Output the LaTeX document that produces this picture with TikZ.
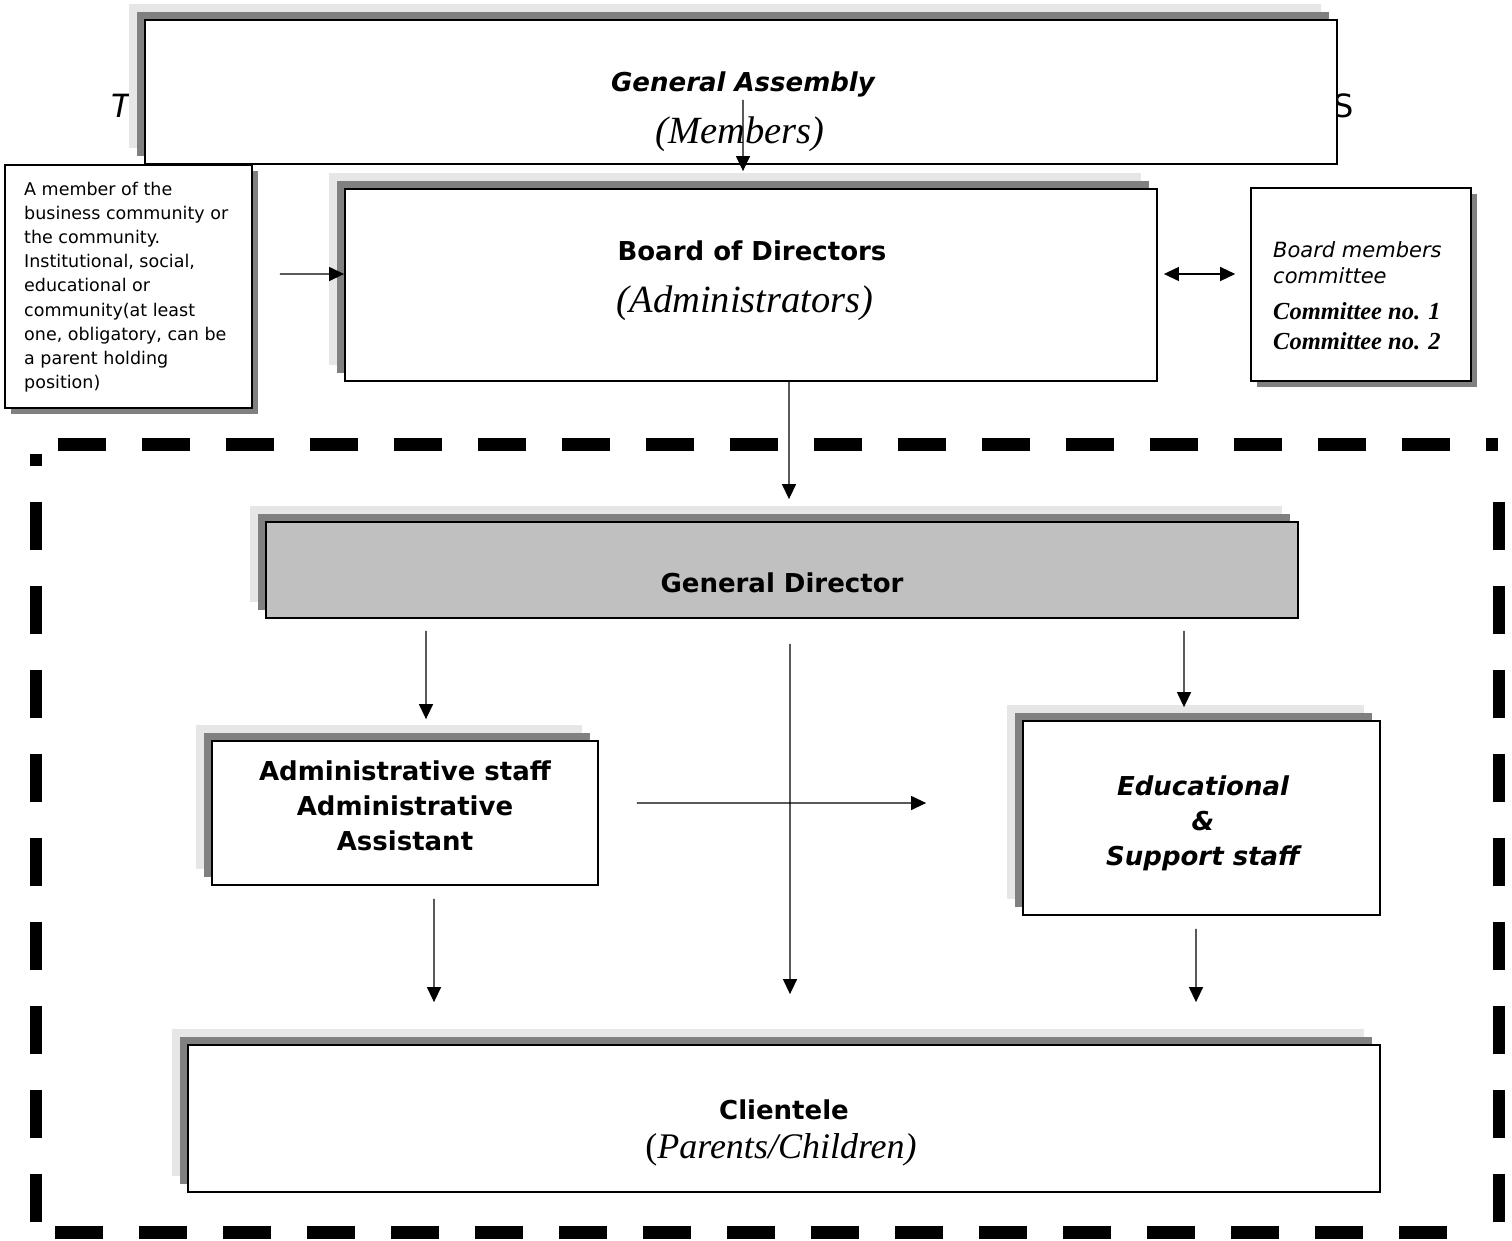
\documentclass[tikz,border=0pt]{standalone}
\usepackage{fontspec}
\setmainfont{DejaVu Sans}
\newfontfamily\timesfont{Liberation Serif}
\usetikzlibrary{arrows.meta,shadows,positioning}

\definecolor{shadedark}{HTML}{808080}
\definecolor{shadelight}{HTML}{E6E6E6}
\definecolor{dirgray}{HTML}{C0C0C0}

\tikzset{
  mainbox/.style={draw, fill=white, line width=1.8bp, inner sep=0pt,
    general shadow={fill=shadelight, shadow xshift=-16bp, shadow yshift=16bp},
    general shadow={fill=shadedark, shadow xshift=-8bp, shadow yshift=8bp}},
  sidebox/.style={draw, fill=white, line width=1.6bp, inner sep=0pt,
    general shadow={fill=shadedark, shadow xshift=6bp, shadow yshift=-6bp}},
  arr/.style={-{Triangle[length=15bp,width=14bp]}, line width=1.3bp},
  dblarr/.style={{Triangle[length=15bp,width=14bp]}-{Triangle[length=15bp,width=14bp]}, line width=1.3bp},
  dashframe/.style={line width=12.5bp, dash pattern=on 48bp off 36bp},
  headtext/.style={font=\fontsize{26bp}{35bp}\selectfont\bfseries, inner sep=0pt},
  headit/.style={headtext, font=\fontsize{26bp}{35bp}\selectfont\bfseries\itshape},
  subtext/.style={font=\fontsize{38.5bp}{44bp}\selectfont\timesfont\itshape, inner sep=0pt},
  cmtetext/.style={font=\fontsize{21bp}{24bp}\selectfont\itshape, inner sep=0pt, anchor=base west},
  cmtebold/.style={font=\fontsize{24.5bp}{28bp}\selectfont\timesfont\bfseries\itshape, inner sep=0pt, anchor=base west},
}

\begin{document}
\begin{tikzpicture}[x=1bp, y=-1bp]
\useasboundingbox (0,0) rectangle (1512,1240);

% title text hidden behind the assembly box
\node[font=\fontsize{32bp}{38bp}\selectfont\itshape, inner sep=0pt, anchor=base west] (ttl) at (111,117) {T};
\node[font=\fontsize{32bp}{38bp}\selectfont, inner sep=0pt, anchor=base west] (tts) at (1333,117) {S};

% General Assembly
\node[mainbox, minimum width=1192bp, minimum height=144bp] (ga) at (741,92) {};
\node[headit, anchor=base] (gahead) at (743,91) {General Assembly};
\node[subtext, anchor=base] (gasub) at (740,143) {(Members)};

% Board of Directors
\node[mainbox, minimum width=812bp, minimum height=192bp] (board) at (751,285) {};
\node[headtext, anchor=base] (boardhead) at (752,260) {Board of Directors};
\node[subtext, anchor=base] (boardsub) at (745,312) {(Administrators)};

% side boxes
\node[sidebox, minimum width=247bp, minimum height=243bp] (member) at (128.5,286.5) {};
\node[anchor=north west, inner sep=0pt, align=left, font=\fontsize{17.5bp}{24.1bp}\selectfont] (membertxt) at (24,182)
  {A member of the\\business community or\\the community.\\Institutional, social,\\educational or\\community(at least\\one, obligatory, can be\\a parent holding\\position)};

\node[sidebox, minimum width=220bp, minimum height=193bp] (cmte) at (1361,284.5) {};
\node[cmtetext] (cmtea) at (1273,257) {Board members};
\node[cmtetext] (cmteb) at (1273,283) {committee};
\node[cmtebold] (cmtec) at (1273,319) {Committee no. 1};
\node[cmtebold] (cmted) at (1273,349) {Committee no. 2};

% dashed frame
\draw[dashframe] (58,444.5) -- (1498,444.5);
\draw[dashframe] (55,1232.5) -- (1447,1232.5);
\draw[dashframe] (36,1222) -- (36,454);
\draw[dashframe] (1499,1222) -- (1499,502);

% General Director
\node[mainbox, fill=dirgray, minimum width=1032bp, minimum height=96bp] (dir) at (782,570) {};
\node[headtext, anchor=base] (dirhead) at (782,592) {General Director};

% staff
\node[mainbox, minimum width=386bp, minimum height=144bp] (admin) at (405,813) {};
\node[headtext, align=center, anchor=north] (admintxt) at (405,761) {Administrative staff\\Administrative\\Assistant};

\node[mainbox, minimum width=357bp, minimum height=194bp] (edu) at (1201.5,818) {};
\node[headit, align=center, anchor=north] (edutxt) at (1203,776) {Educational\\\&\\Support staff};

% Clientele
\node[mainbox, minimum width=1192bp, minimum height=147bp] (client) at (784,1118.5) {};
\node[headtext, anchor=base] (clienthead) at (784,1119) {Clientele};
\node[subtext, font=\fontsize{36bp}{40bp}\selectfont\timesfont, anchor=base] (clientsub) at (781,1158) {(\textit{Parents/Children)}};

% connectors
\draw[arr] ([xshift=2bp,yshift=65bp]ga.south) -- ([xshift=-8bp,yshift=17bp]board.north);
\draw[arr] ([xshift=27bp,yshift=12.5bp]member.east) -- ([yshift=11bp]board.west);
\draw[dblarr] ([xshift=6bp,yshift=11bp]board.east) -- ([xshift=-15bp,yshift=10.5bp]cmte.west);
\draw[arr] ([xshift=38bp]board.south) -- ([xshift=7bp,yshift=22bp]dir.north);
\draw[arr] ([xshift=-356bp,yshift=-12bp]dir.south) -- ([xshift=21bp,yshift=21bp]admin.north);
\draw[arr] ([xshift=8bp,yshift=-25bp]dir.south) -- ([xshift=6bp,yshift=50bp]client.north);
\draw[arr] ([xshift=402bp,yshift=-12bp]dir.south) -- ([xshift=-17.5bp,yshift=13bp]edu.north);
\draw[arr] ([xshift=38bp,yshift=10bp]admin.east) -- ([xshift=-96bp,yshift=15bp]edu.west);
\draw[arr] ([xshift=29bp,yshift=-13bp]admin.south) -- ([xshift=-350bp,yshift=42bp]client.north);
\draw[arr] ([xshift=-5.5bp,yshift=-13bp]edu.south) -- ([xshift=412bp,yshift=42bp]client.north);
\end{tikzpicture}
\end{document}
